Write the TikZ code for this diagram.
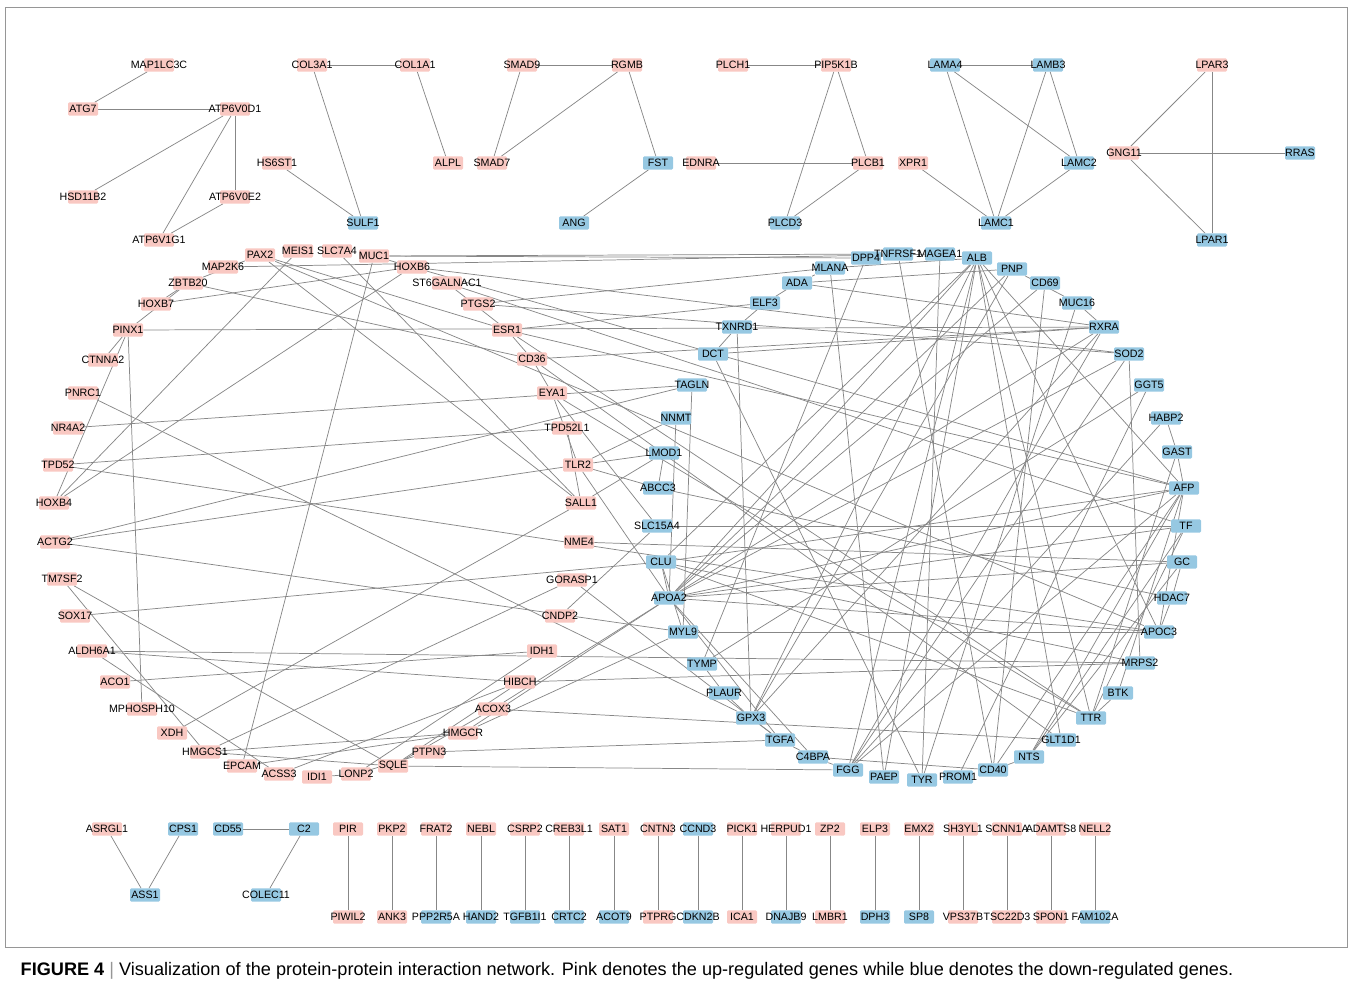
\documentclass[tikz,border=0pt]{standalone}
\usepackage{fontspec}
\setmainfont{Liberation Sans}
\usepackage{tikz}
\pgfdeclarelayer{bg}
\pgfsetlayers{bg,main}
\definecolor{upc}{RGB}{249,200,194}
\definecolor{downc}{RGB}{150,200,226}
\definecolor{linkc}{RGB}{135,135,135}
\definecolor{framec}{RGB}{150,150,150}

\begin{document}
\begin{tikzpicture}[x=0.75pt,y=-0.75pt,font=\fontsize{8}{9}\selectfont,
  gene/.style={rectangle,rounded corners=0.8pt,minimum width=22.5pt,minimum height=9.8pt,inner sep=0pt,
    execute at begin node=\hbox to 0pt\bgroup\hss,execute at end node=\hss\egroup},
  upreg/.style={gene,fill=upc},
  downreg/.style={gene,fill=downc},
  link/.style={draw=linkc,line width=0.55pt}]
  \useasboundingbox (0,0) rectangle (1353,990);
  \draw[framec,line width=0.6pt] (5,7) rectangle (1347,947);

  % Small modules, top row
  \node[upreg] (MAP1LC3C) at (159,65) {MAP1LC3C};
  \node[upreg] (ATG7) at (83,109) {ATG7};
  \node[upreg] (ATP6V0D1) at (235,109) {ATP6V0D1};
  \node[upreg] (HSD11B2) at (83,197) {HSD11B2};
  \node[upreg] (ATP6V0E2) at (235,197) {ATP6V0E2};
  \node[upreg] (ATP6V1G1) at (159,240) {ATP6V1G1};

  \node[upreg] (COL3A1) at (312,65) {COL3A1};
  \node[upreg] (COL1A1) at (415,65) {COL1A1};
  \node[upreg] (HS6ST1) at (277,163) {HS6ST1};
  \node[upreg] (ALPL) at (448,163) {ALPL};
  \node[downreg] (SULF1) at (363,223) {SULF1};

  \node[upreg] (SMAD9) at (522,65) {SMAD9};
  \node[upreg] (RGMB) at (627,65) {RGMB};
  \node[upreg] (SMAD7) at (492,163) {SMAD7};
  \node[downreg] (FST) at (658,163) {FST};
  \node[downreg] (ANG) at (574,223) {ANG};

  \node[upreg] (PLCH1) at (733,65) {PLCH1};
  \node[upreg] (PIP5K1B) at (836,65) {PIP5K1B};
  \node[upreg] (EDNRA) at (701,163) {EDNRA};
  \node[upreg] (PLCB1) at (868,163) {PLCB1};
  \node[downreg] (PLCD3) at (785,223) {PLCD3};

  \node[upreg] (XPR1) at (913,163) {XPR1};
  \node[downreg] (LAMA4) at (945,65) {LAMA4};
  \node[downreg] (LAMB3) at (1048,65) {LAMB3};
  \node[downreg] (LAMC2) at (1079,163) {LAMC2};
  \node[downreg] (LAMC1) at (996,223) {LAMC1};

  \node[upreg] (LPAR3) at (1212,65) {LPAR3};
  \node[upreg] (GNG11) at (1124,153) {GNG11};
  \node[downreg] (RRAS) at (1300,153) {RRAS};
  \node[downreg] (LPAR1) at (1212,240) {LPAR1};

  % Main network, up-regulated ring
  \node[upreg] (PAX2) at (260,255) {PAX2};
  \node[upreg] (MEIS1) at (298,251) {MEIS1};
  \node[upreg] (SLC7A4) at (337,251) {SLC7A4};
  \node[upreg] (MUC1) at (374,256) {MUC1};
  \node[upreg] (MAP2K6) at (223,267) {MAP2K6};
  \node[upreg] (HOXB6) at (412,267) {HOXB6};
  \node[upreg] (ZBTB20) at (188,283) {ZBTB20};
  \node[upreg] (ST6GALNAC1) at (447,283) {ST6GALNAC1};
  \node[upreg] (HOXB7) at (156,304) {HOXB7};
  \node[upreg] (PTGS2) at (478,304) {PTGS2};
  \node[upreg] (PINX1) at (128,330) {PINX1};
  \node[upreg] (ESR1) at (507,330) {ESR1};
  \node[upreg] (CTNNA2) at (103,360) {CTNNA2};
  \node[upreg] (CD36) at (532,359) {CD36};
  \node[upreg] (PNRC1) at (83,393) {PNRC1};
  \node[upreg] (EYA1) at (552,393) {EYA1};
  \node[upreg] (NR4A2) at (68,428) {NR4A2};
  \node[upreg] (TPD52L1) at (567,428) {TPD52L1};
  \node[upreg] (TPD52) at (58,465) {TPD52};
  \node[upreg] (TLR2) at (578,465) {TLR2};
  \node[upreg] (HOXB4) at (54,503) {HOXB4};
  \node[upreg] (SALL1) at (581,503) {SALL1};
  \node[upreg] (ACTG2) at (55,542) {ACTG2};
  \node[upreg] (NME4) at (579,542) {NME4};
  \node[upreg] (TM7SF2) at (62,579) {TM7SF2};
  \node[upreg] (GORASP1) at (572,580) {GORASP1};
  \node[upreg] (SOX17) at (75,616) {SOX17};
  \node[upreg] (CNDP2) at (560,616) {CNDP2};
  \node[upreg] (ALDH6A1) at (92,651) {ALDH6A1};
  \node[upreg] (IDH1) at (542,651) {IDH1};
  \node[upreg] (ACO1) at (115,682) {ACO1};
  \node[upreg] (HIBCH) at (520,682) {HIBCH};
  \node[upreg] (MPHOSPH10) at (142,709) {MPHOSPH10};
  \node[upreg] (ACOX3) at (493,709) {ACOX3};
  \node[upreg] (XDH) at (172,733) {XDH};
  \node[upreg] (HMGCR) at (463,733) {HMGCR};
  \node[upreg] (HMGCS1) at (205,752) {HMGCS1};
  \node[upreg] (PTPN3) at (429,752) {PTPN3};
  \node[upreg] (EPCAM) at (242,766) {EPCAM};
  \node[upreg] (SQLE) at (393,766) {SQLE};
  \node[upreg] (ACSS3) at (279,774) {ACSS3};
  \node[upreg] (LONP2) at (356,774) {LONP2};
  \node[upreg] (IDI1) at (317,777) {IDI1};

  % Main network, down-regulated ring
  \node[downreg] (DPP4) at (866,258) {DPP4};
  \node[downreg] (TNFRSF1) at (898,254) {TNFRSF1};
  \node[downreg] (MAGEA1) at (940,254) {MAGEA1};
  \node[downreg] (ALB) at (977,258) {ALB};
  \node[downreg] (MLANA) at (830,268) {MLANA};
  \node[downreg] (PNP) at (1012,269) {PNP};
  \node[downreg] (ADA) at (797,283) {ADA};
  \node[downreg] (CD69) at (1045,283) {CD69};
  \node[downreg] (ELF3) at (765,303) {ELF3};
  \node[downreg] (MUC16) at (1077,303) {MUC16};
  \node[downreg] (TXNRD1) at (737,327) {TXNRD1};
  \node[downreg] (RXRA) at (1104,327) {RXRA};
  \node[downreg] (DCT) at (713,354) {DCT};
  \node[downreg] (SOD2) at (1129,354) {SOD2};
  \node[downreg] (TAGLN) at (692,385) {TAGLN};
  \node[downreg] (GGT5) at (1149,385) {GGT5};
  \node[downreg] (NNMT) at (676,418) {NNMT};
  \node[downreg] (HABP2) at (1166,418) {HABP2};
  \node[downreg] (LMOD1) at (664,453) {LMOD1};
  \node[downreg] (GAST) at (1177,452) {GAST};
  \node[downreg] (ABCC3) at (658,488) {ABCC3};
  \node[downreg] (AFP) at (1184,488) {AFP};
  \node[downreg] (SLC15A4) at (657,526) {SLC15A4};
  \node[downreg] (TF) at (1186,526) {TF};
  \node[downreg] (CLU) at (661,562) {CLU};
  \node[downreg] (GC) at (1182,562) {GC};
  \node[downreg] (APOA2) at (669,598) {APOA2};
  \node[downreg] (HDAC7) at (1172,598) {HDAC7};
  \node[downreg] (MYL9) at (683,632) {MYL9};
  \node[downreg] (APOC3) at (1159,632) {APOC3};
  \node[downreg] (TYMP) at (702,664) {TYMP};
  \node[downreg] (MRPS2) at (1140,663) {MRPS2};
  \node[downreg] (PLAUR) at (724,693) {PLAUR};
  \node[downreg] (BTK) at (1118,693) {BTK};
  \node[downreg] (GPX3) at (751,718) {GPX3};
  \node[downreg] (TTR) at (1091,718) {TTR};
  \node[downreg] (TGFA) at (780,740) {TGFA};
  \node[downreg] (GLT1D1) at (1061,740) {GLT1D1};
  \node[downreg] (C4BPA) at (813,757) {C4BPA};
  \node[downreg] (NTS) at (1029,757) {NTS};
  \node[downreg] (FGG) at (848,770) {FGG};
  \node[downreg] (CD40) at (993,770) {CD40};
  \node[downreg] (PAEP) at (884,777) {PAEP};
  \node[downreg] (PROM1) at (958,777) {PROM1};
  \node[downreg] (TYR) at (922,780) {TYR};

  % Small modules, bottom row
  \node[upreg] (ASRGL1) at (107,829) {ASRGL1};
  \node[downreg] (CPS1) at (183,829) {CPS1};
  \node[downreg] (ASS1) at (145,895) {ASS1};
  \node[downreg] (CD55) at (228,829) {CD55};
  \node[downreg] (C2) at (304,829) {C2};
  \node[downreg] (COLEC11) at (266,895) {COLEC11};

  \node[upreg] (PIR) at (348,829) {PIR};          \node[upreg] (PIWIL2) at (348,917) {PIWIL2};
  \node[upreg] (PKP2) at (392,829) {PKP2};        \node[upreg] (ANK3) at (392,917) {ANK3};
  \node[upreg] (FRAT2) at (436,829) {FRAT2};      \node[downreg] (PPP2R5A) at (436,917) {PPP2R5A};
  \node[upreg] (NEBL) at (481,829) {NEBL};        \node[downreg] (HAND2) at (481,917) {HAND2};
  \node[upreg] (CSRP2) at (525,829) {CSRP2};      \node[downreg] (TGFB1I1) at (525,917) {TGFB1I1};
  \node[upreg] (CREB3L1) at (569,829) {CREB3L1};  \node[downreg] (CRTC2) at (569,917) {CRTC2};
  \node[upreg] (SAT1) at (614,829) {SAT1};        \node[downreg] (ACOT9) at (614,917) {ACOT9};
  \node[upreg] (CNTN3) at (658,829) {CNTN3};      \node[upreg] (PTPRG) at (658,917) {PTPRG};
  \node[downreg] (CCND3) at (698,829) {CCND3};    \node[downreg] (CDKN2B) at (698,917) {CDKN2B};
  \node[upreg] (PICK1) at (742,829) {PICK1};      \node[upreg] (ICA1) at (742,917) {ICA1};
  \node[upreg] (HERPUD1) at (786,829) {HERPUD1};  \node[downreg] (DNAJB9) at (786,917) {DNAJB9};
  \node[upreg] (ZP2) at (830,829) {ZP2};          \node[upreg] (LMBR1) at (830,917) {LMBR1};
  \node[upreg] (ELP3) at (875,829) {ELP3};        \node[downreg] (DPH3) at (875,917) {DPH3};
  \node[upreg] (EMX2) at (919,829) {EMX2};        \node[downreg] (SP8) at (919,917) {SP8};
  \node[upreg] (SH3YL1) at (963,829) {SH3YL1};    \node[upreg] (VPS37B) at (963,917) {VPS37B};
  \node[upreg] (SCNN1A) at (1007,829) {SCNN1A};   \node[upreg] (TSC22D3) at (1007,917) {TSC22D3};
  \node[upreg] (ADAMTS8) at (1051,829) {ADAMTS8}; \node[upreg] (SPON1) at (1051,917) {SPON1};
  \node[upreg] (NELL2) at (1095,829) {NELL2};     \node[downreg] (FAM102A) at (1095,917) {FAM102A};

  % Caption
  \node[anchor=west,font=\fontsize{13.6}{15}\selectfont] (caption) at (16,971)
    {\textbf{FIGURE 4} {\color{framec}|} Visualization of the protein-protein interaction network. Pink denotes the up-regulated genes while blue denotes the down-regulated genes.};

  \begin{pgfonlayer}{bg}
  % Interactions, small modules
  \path[link]
    (MAP1LC3C) edge (ATG7) (ATG7) edge (ATP6V0D1) (ATP6V0D1) edge (HSD11B2)
    (ATP6V0D1) edge (ATP6V0E2) (ATP6V0D1) edge (ATP6V1G1) (ATP6V0E2) edge (ATP6V1G1)
    (COL3A1) edge (COL1A1) (COL3A1) edge (SULF1) (COL1A1) edge (ALPL) (HS6ST1) edge (SULF1)
    (SMAD9) edge (RGMB) (SMAD9) edge (SMAD7) (RGMB) edge (SMAD7) (RGMB) edge (FST) (FST) edge (ANG)
    (PLCH1) edge (PIP5K1B) (PIP5K1B) edge (PLCB1) (PIP5K1B) edge (PLCD3) (EDNRA) edge (PLCB1) (PLCB1) edge (PLCD3)
    (LAMA4) edge (LAMB3) (LAMA4) edge (LAMC1) (LAMA4) edge (LAMC2) (LAMB3) edge (LAMC1)
    (LAMB3) edge (LAMC2) (LAMC2) edge (LAMC1) (XPR1) edge (LAMC1)
    (LPAR3) edge (GNG11) (LPAR3) edge (LPAR1) (GNG11) edge (RRAS) (GNG11) edge (LPAR1)
    (ASRGL1) edge (ASS1) (CPS1) edge (ASS1) (CD55) edge (C2) (C2) edge (COLEC11)
    (PIR) edge (PIWIL2) (PKP2) edge (ANK3) (FRAT2) edge (PPP2R5A) (NEBL) edge (HAND2)
    (CSRP2) edge (TGFB1I1) (CREB3L1) edge (CRTC2) (SAT1) edge (ACOT9) (CNTN3) edge (PTPRG)
    (CCND3) edge (CDKN2B) (PICK1) edge (ICA1) (HERPUD1) edge (DNAJB9) (ZP2) edge (LMBR1)
    (ELP3) edge (DPH3) (EMX2) edge (SP8) (SH3YL1) edge (VPS37B) (SCNN1A) edge (TSC22D3)
    (ADAMTS8) edge (SPON1) (NELL2) edge (FAM102A);

  % Interactions, main network (left ring)
  \path[link]
    (ZBTB20) edge (PAX2) (HOXB7) edge (ZBTB20) (PINX1) edge (ZBTB20) (PINX1) edge (CTNNA2)
    (PINX1) edge (HOXB4) (PINX1) edge (MPHOSPH10) (HOXB7) edge (HOXB6) (HOXB4) edge (MEIS1)
    (HOXB4) edge (HOXB6) (MUC1) edge (EPCAM) (TM7SF2) edge (HMGCS1) (TM7SF2) edge (SQLE)
    (ALDH6A1) edge (ACSS3) (ALDH6A1) edge (HIBCH) (ACO1) edge (IDH1) (XDH) edge (SALL1)
    (HMGCS1) edge (GORASP1) (HMGCS1) edge (HMGCR) (HMGCS1) edge (SQLE) (EPCAM) edge (HMGCR)
    (ACSS3) edge (HIBCH) (IDI1) edge (LONP2) (LONP2) edge (PTPN3) (LONP2) edge (IDH1)
    (SQLE) edge (HIBCH) (SQLE) edge (ACOX3) (ESR1) edge (CD36) (CD36) edge (EYA1)
    (ST6GALNAC1) edge (ESR1) (EYA1) edge (TLR2) (TPD52L1) edge (SALL1) (ZBTB20) edge (CD36)
    (PAX2) edge (ESR1) (PAX2) edge (SALL1) (SLC7A4) edge (SALL1) (TPD52) edge (TPD52L1);

  % Interactions, main network (across)
  \path[link]
    (PNRC1) edge (GPX3) (NR4A2) edge (TAGLN) (TPD52) edge (APOC3) (ACTG2) edge (TAGLN)
    (ACTG2) edge (TLR2) (ACTG2) edge (MYL9) (SOX17) edge (CLU) (ALDH6A1) edge (MRPS2)
    (PAX2) edge (APOC3) (MUC1) edge (DPP4) (MUC1) edge (TNFRSF1) (MAP2K6) edge (MAGEA1)
    (MUC1) edge (AFP) (HOXB6) edge (SOD2) (ST6GALNAC1) edge (TF) (PTGS2) edge (MLANA)
    (PTGS2) edge (SOD2) (ESR1) edge (ELF3) (PINX1) edge (RXRA) (ESR1) edge (AFP)
    (ESR1) edge (TTR) (CD36) edge (RXRA) (CD36) edge (GLT1D1) (EYA1) edge (SLC15A4)
    (EYA1) edge (TTR) (TLR2) edge (NNMT) (TLR2) edge (LMOD1) (TLR2) edge (ABCC3)
    (TLR2) edge (APOA2) (SALL1) edge (LMOD1) (NME4) edge (GC) (GORASP1) edge (TGFA)
    (CNDP2) edge (SLC15A4) (HIBCH) edge (MRPS2) (ACOX3) edge (GLT1D1) (ACOX3) edge (APOA2)
    (HMGCR) edge (APOA2) (HMGCR) edge (MYL9) (PTPN3) edge (TGFA) (SQLE) edge (FGG);

  % Interactions, main network (right ring)
  \path[link]
    (MLANA) edge (ADA) (ADA) edge (ELF3) (ELF3) edge (TXNRD1) (TXNRD1) edge (DCT)
    (TXNRD1) edge (GPX3) (DCT) edge (TYR) (DCT) edge (RXRA) (TAGLN) edge (MYL9)
    (NNMT) edge (APOA2) (LMOD1) edge (ABCC3) (ABCC3) edge (HDAC7) (SLC15A4) edge (TF)
    (MLANA) edge (PAEP) (MLANA) edge (ALB) (TNFRSF1) edge (DPP4) (TNFRSF1) edge (CD40)
    (MAGEA1) edge (TYR) (DPP4) edge (TYMP) (ALB) edge (APOA2) (ALB) edge (CLU)
    (ALB) edge (GPX3) (ALB) edge (FGG) (ALB) edge (PAEP) (ALB) edge (GLT1D1)
    (ALB) edge (TTR) (ALB) edge (AFP) (ALB) edge (APOC3) (ADA) edge (PNP)
    (PNP) edge (MUC16) (PNP) edge (APOA2) (PNP) edge (GPX3) (CD69) edge (CD40)
    (CD69) edge (APOA2) (MUC16) edge (RXRA) (ADA) edge (RXRA) (RXRA) edge (APOA2)
    (RXRA) edge (FGG) (RXRA) edge (GPX3) (SOD2) edge (MRPS2) (SOD2) edge (APOA2)
    (SOD2) edge (FGG) (GGT5) edge (TYMP) (GGT5) edge (PROM1) (HABP2) edge (GAST)
    (HABP2) edge (FGG) (GAST) edge (AFP) (GAST) edge (TTR) (AFP) edge (APOA2)
    (AFP) edge (CLU) (AFP) edge (APOC3) (AFP) edge (BTK) (AFP) edge (NTS)
    (AFP) edge (FGG) (TF) edge (APOA2) (TF) edge (NTS) (TF) edge (TTR)
    (GC) edge (HDAC7) (GC) edge (NTS) (GC) edge (APOA2) (APOC3) edge (APOA2)
    (APOC3) edge (HDAC7) (APOC3) edge (MYL9) (BTK) edge (TTR) (TTR) edge (CLU)
    (NTS) edge (CD40) (FGG) edge (C4BPA) (TGFA) edge (GPX3) (TGFA) edge (C4BPA)
    (TYMP) edge (PLAUR) (PLAUR) edge (GPX3) (MYL9) edge (CLU) (APOA2) edge (CLU)
    (APOA2) edge (TGFA) (APOA2) edge (C4BPA) (CLU) edge (MRPS2) (C4BPA) edge (CD40)
    (TYR) edge (MUC16) (CD40) edge (AFP);
  \end{pgfonlayer}
\end{tikzpicture}
\end{document}
